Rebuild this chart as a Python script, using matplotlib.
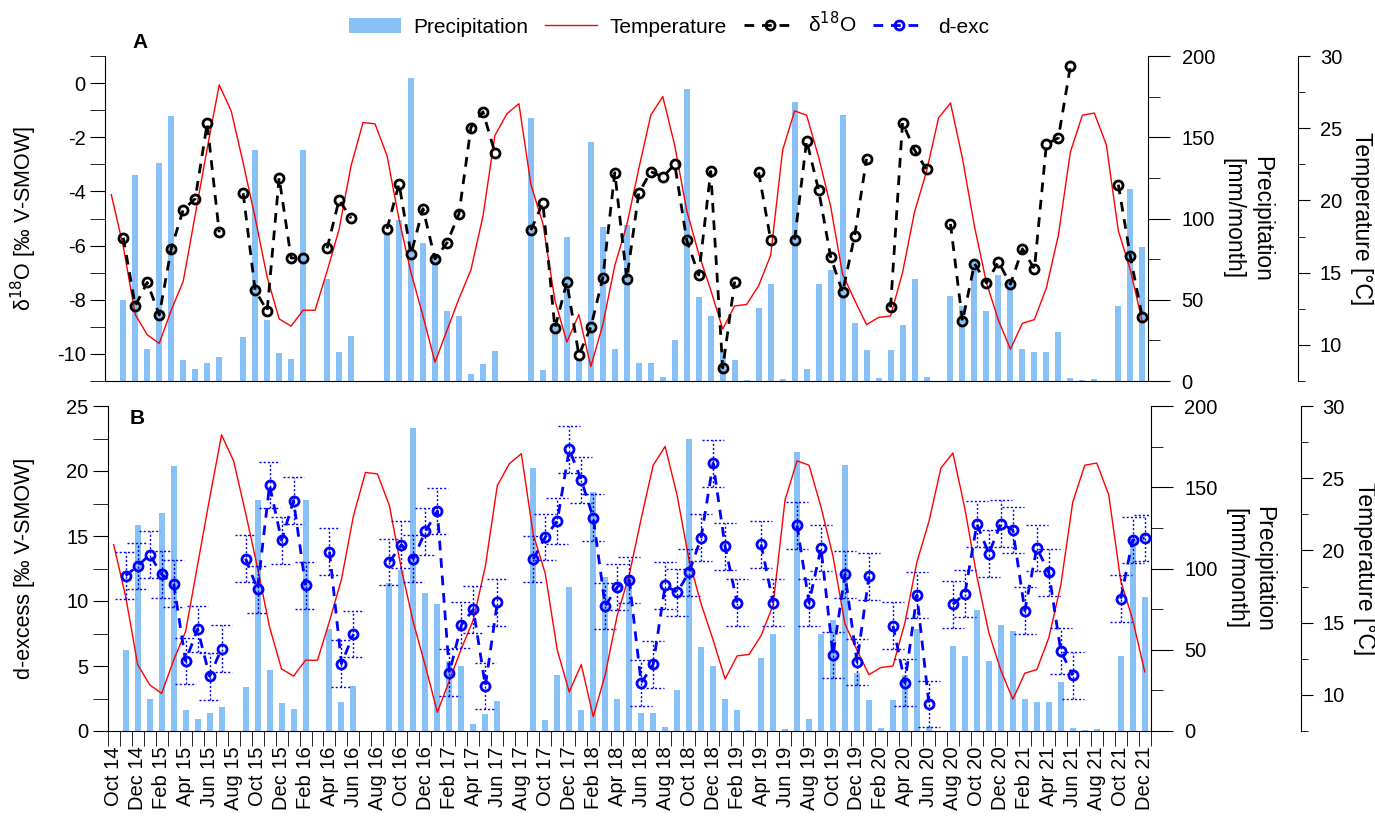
import numpy as np
import pandas as pd
import matplotlib
matplotlib.use('Agg')
import matplotlib.pyplot as plt
from matplotlib.ticker import MultipleLocator, FixedLocator
from matplotlib.lines import Line2D
from matplotlib.patches import Patch

plt.rcParams['font.family'] = ['Liberation Sans', 'DejaVu Sans']
plt.rcParams['axes.unicode_minus'] = False

nan = np.nan

# monthly series, Oct 2014 - Dec 2021
months = pd.date_range('2014-10-01', periods=87, freq='MS')
month_labels = [m.strftime('%b %y') for m in months]

# precipitation [mm/month]
precip = [0, 50, 127, 20, 134, 163, 13, 7.4, 11, 15,
          0, 27, 142, 37.5, 17, 13.5, 142, 0, 63, 18,
          28, 0, 0, 91, 99, 186.5, 85, 78, 43, 40,
          4.3, 10.5, 18.5, 0, 0, 162, 6.8, 34.5, 88.6, 13,
          147, 95, 20, 96, 11, 11, 2.5, 25, 180, 52,
          40, 20, 13, 0.6, 45, 60, 1.5, 172, 7.5, 59.5,
          68.5, 164, 35.7, 19, 1.8, 19, 34.5, 63, 2.5, 0,
          52.3, 46, 74.5, 43, 65, 61.5, 19.7, 17.8, 17.8, 30,
          1.8, 0.6, 1.2, 0, 46, 118, 82.5]

# air temperature [degC]
temp = [20.4, 16.8, 12.1, 10.7, 10.1, 12.4, 14.4, 19.0, 23.6, 28.0,
        26.2, 22.6, 18.8, 14.7, 11.8, 11.3, 12.4, 12.4, 15.1, 18.0,
        22.4, 25.4, 25.3, 23.1, 18.7, 15.0, 12.0, 8.8, 11.0, 13.2,
        15.2, 18.9, 24.5, 26.0, 26.7, 21.1, 18.4, 13.1, 10.2, 12.1,
        8.5, 11.4, 15.5, 18.3, 22.2, 25.9, 27.2, 23.8, 19.3, 16.3,
        13.8, 11.1, 12.7, 12.8, 14.1, 16.2, 23.5, 26.2, 25.9, 23.0,
        19.6, 14.9, 13.1, 11.4, 11.9, 12.0, 15.0, 19.2, 22.0, 25.7,
        26.75, 22.9, 18.2, 14.3, 11.7, 9.7, 11.5, 11.75, 13.95, 17.6,
        23.35, 25.9, 26.05, 23.85, 17.9, 15.2, 11.6]

# delta 18O [permil V-SMOW]
d18o = [nan, -5.71, -8.22, -7.36, -8.56, -6.12, -4.67, -4.27, -1.49, -5.51,
        nan, -4.07, -7.65, -8.41, -3.49, -6.46, -6.46, nan, -6.10, -4.31,
        -4.99, nan, nan, -5.38, -3.72, -6.31, -4.64, -6.49, -5.90, -4.83,
        -1.64, -1.06, -2.57, nan, nan, -5.43, -4.42, -9.05, -7.35, -10.04,
        -9.01, -7.19, -3.31, -7.23, -4.06, -3.27, -3.47, -3.00, -5.80, -7.09,
        -3.26, -10.52, -7.33, nan, -3.30, -5.79, nan, -5.78, -2.12, -3.95,
        -6.41, -7.73, -5.64, -2.80, nan, -8.28, -1.46, -2.47, -3.19, nan,
        -5.20, -8.80, -6.67, -7.38, -6.60, -7.43, -6.12, -6.86, -2.26, -2.02,
        0.62, nan, nan, nan, -3.75, -6.40, -8.65]

# deuterium excess [permil V-SMOW]
dexc = [nan, 11.95, 12.69, 13.56, 12.05, 11.33, 5.38, 7.85, 4.21, 6.33,
        nan, 13.26, 10.9, 18.92, 14.67, 17.72, 11.2, nan, 13.8, 5.18,
        7.46, nan, nan, 13.0, 14.33, 13.26, 15.36, 16.92, 4.49, 8.15,
        9.36, 3.46, 9.9, nan, nan, 13.23, 14.92, 16.15, 21.67, 19.31,
        16.41, 9.62, 11.08, 11.62, 3.69, 5.13, 11.2, 10.67, 12.21, 14.87,
        20.59, 14.2, 9.87, nan, 14.36, 9.87, nan, 15.82, 9.87, 14.08,
        5.85, 12.05, 5.31, 11.9, nan, 8.1, 3.72, 10.46, 2.08, nan,
        9.74, 10.56, 15.92, 13.65, 15.96, 15.46, 9.26, 14.08, 12.2, 6.15,
        4.28, nan, nan, nan, 10.18, 14.69, 14.85]
dexc_err = 1.8

x = np.arange(len(months))
W, H = 1375, 823
bar_color = '#88c0f8'
fs_tick = 14.5
fs_lab = 16.5
fs_left = 15.5

fig = plt.figure(figsize=(W / 100, H / 100), dpi=100)


def make_panel(left, top, bottom):
    width = 1043
    ax = fig.add_axes([left / W, 1 - bottom / H, width / W, (bottom - top) / H])
    axp = ax.twinx()
    axt = ax.twinx()

    # draw order: bars, temperature, isotopes
    axp.set_zorder(1)
    axt.set_zorder(2)
    axt.patch.set_visible(False)
    ax.set_zorder(3)
    ax.patch.set_visible(False)

    axp.bar(x, precip, width=0.5, color=bar_color, zorder=1)
    axt.plot(x, temp, color='red', lw=1)

    ax.set_xlim(-0.5, 86.5)
    axp.set_ylim(0, 200)
    axt.set_ylim(7.5, 30)

    for s in ['top', 'right']:
        ax.spines[s].set_visible(False)
    for s in ['top', 'left', 'bottom']:
        axp.spines[s].set_visible(False)
        axt.spines[s].set_visible(False)
    axt.spines['right'].set_position(('axes', 1 + 150 / width))

    # precipitation axis
    axp.yaxis.set_major_locator(MultipleLocator(50))
    axp.yaxis.set_minor_locator(MultipleLocator(25))
    axp.tick_params(axis='y', which='major', length=16, labelsize=fs_tick, pad=8)
    axp.tick_params(axis='y', which='minor', length=8.5)
    axp.text(1.095, 0.5, 'Precipitation\n[mm/month]', rotation=270, ha='center',
             va='center', fontsize=fs_lab, transform=axp.transAxes, linespacing=1.3)

    # temperature axis
    axt.yaxis.set_major_locator(MultipleLocator(5))
    axt.yaxis.set_minor_locator(MultipleLocator(2.5))
    axt.tick_params(axis='y', which='major', length=8.5, labelsize=fs_tick, pad=7)
    axt.tick_params(axis='y', which='minor', length=5)
    axt.text(1.2046, 0.5, 'Temperature [°C]', rotation=270, ha='center',
             va='center', fontsize=fs_lab, transform=axt.transAxes)

    ax.tick_params(axis='y', which='both', length=11, labelsize=fs_tick, pad=3)
    return ax, axp, axt


# ---- panel A: delta 18O
axA, axAp, axAt = make_panel(105.3, 56, 381)
axA.plot(x, d18o, color='black', ls='--', dashes=(3.5, 2.8), lw=2,
         marker='o', ms=6.5, mfc='none', mec='black', mew=2)
axA.set_ylim(-11, 1)
axA.yaxis.set_major_locator(MultipleLocator(2))
axA.yaxis.set_minor_locator(MultipleLocator(1))
axA.set_xticks([])
axA.text(-0.078, 0.5, 'δ$^{18}$O [‰ V-SMOW]', rotation=90, ha='center', va='center',
         fontsize=fs_left, transform=axA.transAxes)

# ---- panel B: d-excess
axB, axBp, axBt = make_panel(107.7, 406, 731)
lo = np.array(dexc) - dexc_err
hi = np.array(dexc) + dexc_err
axB.vlines(x, lo, hi, color='blue', lw=1, linestyles=(0, (1.5, 1.5)))
axB.hlines(lo, x - 0.9, x + 0.9, color='blue', lw=1, linestyles=(0, (1.5, 1.5)))
axB.hlines(hi, x - 0.9, x + 0.9, color='blue', lw=1, linestyles=(0, (1.5, 1.5)))
axB.plot(x, dexc, color='blue', ls='--', dashes=(3.5, 2.8), lw=2,
         marker='o', ms=6.5, mfc='none', mec='blue', mew=2)
axB.set_ylim(0, 25)
axB.yaxis.set_major_locator(MultipleLocator(5))
axB.yaxis.set_minor_locator(MultipleLocator(2.5))
axB.set_xticks(x[::2])
axB.set_xticklabels(month_labels[::2], rotation=90, fontsize=fs_tick)
axB.xaxis.set_minor_locator(FixedLocator(np.arange(-0.5, 87, 1)))
axB.tick_params(axis='x', which='major', length=0, pad=11)
axB.tick_params(axis='x', which='minor', length=11)
axB.text(-0.08, 0.5, 'd-excess [‰ V-SMOW]', rotation=90, ha='center', va='center',
         fontsize=fs_left, transform=axB.transAxes)

fig.text(140 / W, 1 - 42 / H, 'A', fontsize=15, fontweight='bold', ha='center', va='center')
fig.text(137 / W, 1 - 418 / H, 'B', fontsize=15, fontweight='bold', ha='center', va='center')

handles = [
    Patch(facecolor=bar_color, edgecolor='none'),
    Line2D([], [], color='red', lw=1),
    Line2D([], [], color='black', ls='--', dashes=(3.5, 2.8), lw=2, marker='o', ms=6.5,
           mfc='none', mew=2),
    Line2D([], [], color='blue', ls='--', dashes=(3.5, 2.8), lw=2, marker='o', ms=6.5,
           mfc='none', mew=2),
]
fig.legend(handles, ['Precipitation', 'Temperature', 'δ$^{18}$O', 'd-exc'],
           loc='center', bbox_to_anchor=(669 / W, 1 - 24 / H), ncol=4, frameon=False,
           fontsize=15, handlelength=2.5, handletextpad=0.6, columnspacing=0.8)

fig.savefig('out.png', dpi=100)
